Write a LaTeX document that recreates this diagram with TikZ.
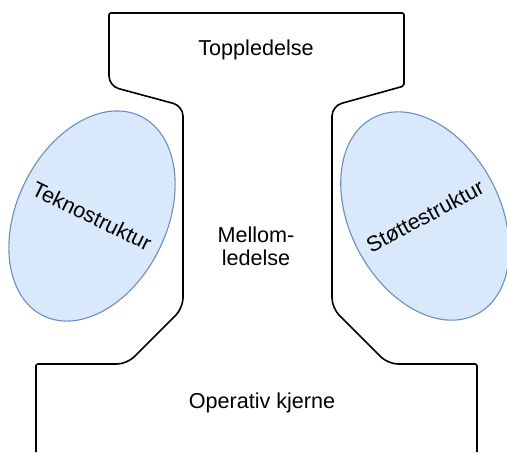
\documentclass[tikz,border=0pt]{standalone}
\usepackage{fontspec}
\setmainfont{Liberation Sans}
\usetikzlibrary{shapes.geometric}
\definecolor{partFill}{HTML}{DAE8FC}
\definecolor{partLine}{HTML}{6C8EBF}
\begin{document}
\begin{tikzpicture}[x=0.5pt, y=-0.5pt,
        part/.style={ellipse, draw=partLine, fill=partFill, line width=0.55pt,
            minimum width=75pt, minimum height=111pt, inner sep=0pt,
            font=\fontsize{10.8}{11.5}\selectfont},
        txt/.style={align=center, font=\fontsize{10.8}{11.5}\selectfont}]
        \useasboundingbox (0,0) rectangle (507,452);

        % outline
        \draw[line width=0.8pt, rounded corners=1pt]
            (36,452) -- (36,364) [rounded corners=5pt] -- (127,364) -- (183,308)
            -- (183,106) -- (109,86) [rounded corners=1pt] -- (109,13) -- (404,13)
            -- (404,86) [rounded corners=5pt] -- (332,106) -- (332,308) -- (388,364)
            [rounded corners=1pt] -- (477,364) -- (477,452);

        \node[part, rotate=-26] (techno) at (92,216) {\makebox[0pt]{Teknostruktur}};
        \node[part, rotate=28] (support) at (425,216) {\makebox[0pt]{Støttestruktur}};

        \node[txt] (top) at (256,50) {Toppledelse};
        \node[txt] (middle) at (256,246) {Mellom-\\ledelse};
        \node[txt] (core) at (262,403) {Operativ kjerne};
    \end{tikzpicture}
\end{document}
